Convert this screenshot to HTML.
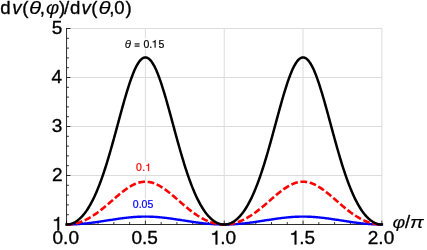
<!DOCTYPE html>
<html><head><meta charset="utf-8"><title>plot</title>
<style>
html,body{margin:0;padding:0;background:#fff;}
body{width:427px;height:250px;overflow:hidden;}
svg{display:block;will-change:transform;opacity:0.999;font-family:"Liberation Sans",sans-serif;}
</style></head><body>
<svg width="427" height="250" viewBox="0 0 427 250">
<rect x="0" y="0" width="427" height="250" fill="#fff"/>
<line x1="66.55" y1="28.50" x2="66.55" y2="224.50" stroke="#dcdcdc" stroke-width="1"/>
<line x1="145.39" y1="28.50" x2="145.39" y2="224.50" stroke="#dcdcdc" stroke-width="1"/>
<line x1="224.22" y1="28.50" x2="224.22" y2="224.50" stroke="#dcdcdc" stroke-width="1"/>
<line x1="303.06" y1="28.50" x2="303.06" y2="224.50" stroke="#dcdcdc" stroke-width="1"/>
<line x1="381.90" y1="28.50" x2="381.90" y2="224.50" stroke="#dcdcdc" stroke-width="1"/>
<line x1="66.55" y1="224.50" x2="381.90" y2="224.50" stroke="#dcdcdc" stroke-width="1"/>
<line x1="66.55" y1="175.50" x2="381.90" y2="175.50" stroke="#dcdcdc" stroke-width="1"/>
<line x1="66.55" y1="126.50" x2="381.90" y2="126.50" stroke="#dcdcdc" stroke-width="1"/>
<line x1="66.55" y1="77.50" x2="381.90" y2="77.50" stroke="#dcdcdc" stroke-width="1"/>
<line x1="66.55" y1="28.50" x2="381.90" y2="28.50" stroke="#dcdcdc" stroke-width="1"/>
<line x1="66.55" y1="28.10" x2="66.55" y2="224.90" stroke="#000" stroke-width="0.8"/>
<line x1="66.15" y1="224.50" x2="382.30" y2="224.50" stroke="#000" stroke-width="0.8"/>
<line x1="66.55" y1="224.50" x2="70.45" y2="224.50" stroke="#000" stroke-width="0.8"/>
<line x1="66.55" y1="214.70" x2="68.95" y2="214.70" stroke="#000" stroke-width="0.8"/>
<line x1="66.55" y1="204.90" x2="68.95" y2="204.90" stroke="#000" stroke-width="0.8"/>
<line x1="66.55" y1="195.10" x2="68.95" y2="195.10" stroke="#000" stroke-width="0.8"/>
<line x1="66.55" y1="185.30" x2="68.95" y2="185.30" stroke="#000" stroke-width="0.8"/>
<line x1="66.55" y1="175.50" x2="70.45" y2="175.50" stroke="#000" stroke-width="0.8"/>
<line x1="66.55" y1="165.70" x2="68.95" y2="165.70" stroke="#000" stroke-width="0.8"/>
<line x1="66.55" y1="155.90" x2="68.95" y2="155.90" stroke="#000" stroke-width="0.8"/>
<line x1="66.55" y1="146.10" x2="68.95" y2="146.10" stroke="#000" stroke-width="0.8"/>
<line x1="66.55" y1="136.30" x2="68.95" y2="136.30" stroke="#000" stroke-width="0.8"/>
<line x1="66.55" y1="126.50" x2="70.45" y2="126.50" stroke="#000" stroke-width="0.8"/>
<line x1="66.55" y1="116.70" x2="68.95" y2="116.70" stroke="#000" stroke-width="0.8"/>
<line x1="66.55" y1="106.90" x2="68.95" y2="106.90" stroke="#000" stroke-width="0.8"/>
<line x1="66.55" y1="97.10" x2="68.95" y2="97.10" stroke="#000" stroke-width="0.8"/>
<line x1="66.55" y1="87.30" x2="68.95" y2="87.30" stroke="#000" stroke-width="0.8"/>
<line x1="66.55" y1="77.50" x2="70.45" y2="77.50" stroke="#000" stroke-width="0.8"/>
<line x1="66.55" y1="67.70" x2="68.95" y2="67.70" stroke="#000" stroke-width="0.8"/>
<line x1="66.55" y1="57.90" x2="68.95" y2="57.90" stroke="#000" stroke-width="0.8"/>
<line x1="66.55" y1="48.10" x2="68.95" y2="48.10" stroke="#000" stroke-width="0.8"/>
<line x1="66.55" y1="38.30" x2="68.95" y2="38.30" stroke="#000" stroke-width="0.8"/>
<line x1="66.55" y1="28.50" x2="70.45" y2="28.50" stroke="#000" stroke-width="0.8"/>
<line x1="66.55" y1="224.50" x2="66.55" y2="220.60" stroke="#000" stroke-width="0.8"/>
<line x1="82.32" y1="224.50" x2="82.32" y2="222.10" stroke="#000" stroke-width="0.8"/>
<line x1="98.08" y1="224.50" x2="98.08" y2="222.10" stroke="#000" stroke-width="0.8"/>
<line x1="113.85" y1="224.50" x2="113.85" y2="222.10" stroke="#000" stroke-width="0.8"/>
<line x1="129.62" y1="224.50" x2="129.62" y2="222.10" stroke="#000" stroke-width="0.8"/>
<line x1="145.39" y1="224.50" x2="145.39" y2="220.60" stroke="#000" stroke-width="0.8"/>
<line x1="161.16" y1="224.50" x2="161.16" y2="222.10" stroke="#000" stroke-width="0.8"/>
<line x1="176.92" y1="224.50" x2="176.92" y2="222.10" stroke="#000" stroke-width="0.8"/>
<line x1="192.69" y1="224.50" x2="192.69" y2="222.10" stroke="#000" stroke-width="0.8"/>
<line x1="208.46" y1="224.50" x2="208.46" y2="222.10" stroke="#000" stroke-width="0.8"/>
<line x1="224.22" y1="224.50" x2="224.22" y2="220.60" stroke="#000" stroke-width="0.8"/>
<line x1="239.99" y1="224.50" x2="239.99" y2="222.10" stroke="#000" stroke-width="0.8"/>
<line x1="255.76" y1="224.50" x2="255.76" y2="222.10" stroke="#000" stroke-width="0.8"/>
<line x1="271.53" y1="224.50" x2="271.53" y2="222.10" stroke="#000" stroke-width="0.8"/>
<line x1="287.30" y1="224.50" x2="287.30" y2="222.10" stroke="#000" stroke-width="0.8"/>
<line x1="303.06" y1="224.50" x2="303.06" y2="220.60" stroke="#000" stroke-width="0.8"/>
<line x1="318.83" y1="224.50" x2="318.83" y2="222.10" stroke="#000" stroke-width="0.8"/>
<line x1="334.60" y1="224.50" x2="334.60" y2="222.10" stroke="#000" stroke-width="0.8"/>
<line x1="350.37" y1="224.50" x2="350.37" y2="222.10" stroke="#000" stroke-width="0.8"/>
<line x1="366.13" y1="224.50" x2="366.13" y2="222.10" stroke="#000" stroke-width="0.8"/>
<line x1="381.90" y1="224.50" x2="381.90" y2="220.60" stroke="#000" stroke-width="0.8"/>
<path d="M66.55,224.50 67.34,224.50 68.13,224.49 68.92,224.48 69.70,224.47 70.49,224.45 71.28,224.43 72.07,224.41 72.86,224.38 73.65,224.35 74.43,224.32 75.22,224.28 76.01,224.24 76.80,224.19 77.59,224.15 78.38,224.09 79.16,224.04 79.95,223.98 80.74,223.92 81.53,223.86 82.32,223.79 83.11,223.72 83.89,223.64 84.68,223.57 85.47,223.49 86.26,223.41 87.05,223.32 87.84,223.23 88.62,223.14 89.41,223.05 90.20,222.95 90.99,222.86 91.78,222.76 92.57,222.65 93.35,222.55 94.14,222.44 94.93,222.33 95.72,222.22 96.51,222.11 97.30,222.00 98.08,221.88 98.87,221.77 99.66,221.65 100.45,221.53 101.24,221.41 102.03,221.29 102.82,221.17 103.60,221.05 104.39,220.93 105.18,220.80 105.97,220.68 106.76,220.55 107.55,220.43 108.33,220.31 109.12,220.18 109.91,220.06 110.70,219.94 111.49,219.81 112.28,219.69 113.06,219.57 113.85,219.45 114.64,219.33 115.43,219.21 116.22,219.09 117.01,218.98 117.79,218.86 118.58,218.75 119.37,218.64 120.16,218.53 120.95,218.42 121.74,218.32 122.52,218.22 123.31,218.11 124.10,218.02 124.89,217.92 125.68,217.83 126.47,217.74 127.25,217.65 128.04,217.57 128.83,217.49 129.62,217.41 130.41,217.33 131.20,217.26 131.99,217.19 132.77,217.13 133.56,217.07 134.35,217.01 135.14,216.96 135.93,216.90 136.72,216.86 137.50,216.82 138.29,216.78 139.08,216.74 139.87,216.71 140.66,216.69 141.45,216.66 142.23,216.64 143.02,216.63 143.81,216.62 144.60,216.61 145.39,216.61 146.18,216.61 146.96,216.62 147.75,216.63 148.54,216.64 149.33,216.66 150.12,216.69 150.91,216.71 151.69,216.74 152.48,216.78 153.27,216.82 154.06,216.86 154.85,216.90 155.64,216.96 156.42,217.01 157.21,217.07 158.00,217.13 158.79,217.19 159.58,217.26 160.37,217.33 161.15,217.41 161.94,217.49 162.73,217.57 163.52,217.65 164.31,217.74 165.10,217.83 165.89,217.92 166.67,218.02 167.46,218.11 168.25,218.22 169.04,218.32 169.83,218.42 170.62,218.53 171.40,218.64 172.19,218.75 172.98,218.86 173.77,218.98 174.56,219.09 175.35,219.21 176.13,219.33 176.92,219.45 177.71,219.57 178.50,219.69 179.29,219.81 180.08,219.94 180.86,220.06 181.65,220.18 182.44,220.31 183.23,220.43 184.02,220.55 184.81,220.68 185.59,220.80 186.38,220.93 187.17,221.05 187.96,221.17 188.75,221.29 189.54,221.41 190.32,221.53 191.11,221.65 191.90,221.77 192.69,221.88 193.48,222.00 194.27,222.11 195.06,222.22 195.84,222.33 196.63,222.44 197.42,222.55 198.21,222.65 199.00,222.76 199.79,222.86 200.57,222.95 201.36,223.05 202.15,223.14 202.94,223.23 203.73,223.32 204.52,223.41 205.30,223.49 206.09,223.57 206.88,223.64 207.67,223.72 208.46,223.79 209.25,223.86 210.03,223.92 210.82,223.98 211.61,224.04 212.40,224.09 213.19,224.15 213.98,224.19 214.76,224.24 215.55,224.28 216.34,224.32 217.13,224.35 217.92,224.38 218.71,224.41 219.49,224.43 220.28,224.45 221.07,224.47 221.86,224.48 222.65,224.49 223.44,224.50 224.22,224.50 225.01,224.50 225.80,224.49 226.59,224.48 227.38,224.47 228.17,224.45 228.96,224.43 229.74,224.41 230.53,224.38 231.32,224.35 232.11,224.32 232.90,224.28 233.69,224.24 234.47,224.19 235.26,224.15 236.05,224.09 236.84,224.04 237.63,223.98 238.42,223.92 239.20,223.86 239.99,223.79 240.78,223.72 241.57,223.64 242.36,223.57 243.15,223.49 243.93,223.41 244.72,223.32 245.51,223.23 246.30,223.14 247.09,223.05 247.88,222.95 248.66,222.86 249.45,222.76 250.24,222.65 251.03,222.55 251.82,222.44 252.61,222.33 253.39,222.22 254.18,222.11 254.97,222.00 255.76,221.88 256.55,221.77 257.34,221.65 258.13,221.53 258.91,221.41 259.70,221.29 260.49,221.17 261.28,221.05 262.07,220.93 262.86,220.80 263.64,220.68 264.43,220.55 265.22,220.43 266.01,220.31 266.80,220.18 267.59,220.06 268.37,219.94 269.16,219.81 269.95,219.69 270.74,219.57 271.53,219.45 272.32,219.33 273.10,219.21 273.89,219.09 274.68,218.98 275.47,218.86 276.26,218.75 277.05,218.64 277.83,218.53 278.62,218.42 279.41,218.32 280.20,218.22 280.99,218.11 281.78,218.02 282.56,217.92 283.35,217.83 284.14,217.74 284.93,217.65 285.72,217.57 286.51,217.49 287.29,217.41 288.08,217.33 288.87,217.26 289.66,217.19 290.45,217.13 291.24,217.07 292.03,217.01 292.81,216.96 293.60,216.90 294.39,216.86 295.18,216.82 295.97,216.78 296.76,216.74 297.54,216.71 298.33,216.69 299.12,216.66 299.91,216.64 300.70,216.63 301.49,216.62 302.27,216.61 303.06,216.61 303.85,216.61 304.64,216.62 305.43,216.63 306.22,216.64 307.00,216.66 307.79,216.69 308.58,216.71 309.37,216.74 310.16,216.78 310.95,216.82 311.73,216.86 312.52,216.90 313.31,216.96 314.10,217.01 314.89,217.07 315.68,217.13 316.46,217.19 317.25,217.26 318.04,217.33 318.83,217.41 319.62,217.49 320.41,217.57 321.20,217.65 321.98,217.74 322.77,217.83 323.56,217.92 324.35,218.02 325.14,218.11 325.93,218.22 326.71,218.32 327.50,218.42 328.29,218.53 329.08,218.64 329.87,218.75 330.66,218.86 331.44,218.98 332.23,219.09 333.02,219.21 333.81,219.33 334.60,219.45 335.39,219.57 336.17,219.69 336.96,219.81 337.75,219.94 338.54,220.06 339.33,220.18 340.12,220.31 340.90,220.43 341.69,220.55 342.48,220.68 343.27,220.80 344.06,220.93 344.85,221.05 345.63,221.17 346.42,221.29 347.21,221.41 348.00,221.53 348.79,221.65 349.58,221.77 350.37,221.88 351.15,222.00 351.94,222.11 352.73,222.22 353.52,222.33 354.31,222.44 355.10,222.55 355.88,222.65 356.67,222.76 357.46,222.86 358.25,222.95 359.04,223.05 359.83,223.14 360.61,223.23 361.40,223.32 362.19,223.41 362.98,223.49 363.77,223.57 364.56,223.64 365.34,223.72 366.13,223.79 366.92,223.86 367.71,223.92 368.50,223.98 369.29,224.04 370.07,224.09 370.86,224.15 371.65,224.19 372.44,224.24 373.23,224.28 374.02,224.32 374.80,224.35 375.59,224.38 376.38,224.41 377.17,224.43 377.96,224.45 378.75,224.47 379.53,224.48 380.32,224.49 381.11,224.50 381.90,224.50" fill="none" stroke="#0000ff" stroke-width="2.4" stroke-linejoin="round"/>
<path d="M66.55,224.50 67.34,224.49 68.13,224.47 68.92,224.43 69.70,224.37 70.49,224.30 71.28,224.21 72.07,224.11 72.86,223.99 73.65,223.85 74.43,223.70 75.22,223.53 76.01,223.35 76.80,223.15 77.59,222.94 78.38,222.71 79.16,222.46 79.95,222.20 80.74,221.92 81.53,221.63 82.32,221.32 83.11,221.00 83.89,220.66 84.68,220.31 85.47,219.94 86.26,219.56 87.05,219.16 87.84,218.75 88.62,218.32 89.41,217.88 90.20,217.43 90.99,216.96 91.78,216.48 92.57,215.98 93.35,215.48 94.14,214.96 94.93,214.42 95.72,213.88 96.51,213.32 97.30,212.76 98.08,212.18 98.87,211.59 99.66,210.99 100.45,210.38 101.24,209.76 102.03,209.14 102.82,208.50 103.60,207.86 104.39,207.21 105.18,206.55 105.97,205.89 106.76,205.22 107.55,204.55 108.33,203.87 109.12,203.19 109.91,202.50 110.70,201.82 111.49,201.13 112.28,200.44 113.06,199.75 113.85,199.07 114.64,198.38 115.43,197.70 116.22,197.02 117.01,196.35 117.79,195.68 118.58,195.01 119.37,194.35 120.16,193.71 120.95,193.06 121.74,192.43 122.52,191.81 123.31,191.20 124.10,190.60 124.89,190.02 125.68,189.45 126.47,188.89 127.25,188.35 128.04,187.82 128.83,187.31 129.62,186.82 130.41,186.35 131.20,185.90 131.99,185.47 132.77,185.05 133.56,184.66 134.35,184.29 135.14,183.95 135.93,183.63 136.72,183.33 137.50,183.05 138.29,182.80 139.08,182.58 139.87,182.38 140.66,182.21 141.45,182.06 142.23,181.94 143.02,181.84 143.81,181.78 144.60,181.74 145.39,181.72 146.18,181.74 146.96,181.78 147.75,181.84 148.54,181.94 149.33,182.06 150.12,182.21 150.91,182.38 151.69,182.58 152.48,182.80 153.27,183.05 154.06,183.33 154.85,183.63 155.64,183.95 156.42,184.29 157.21,184.66 158.00,185.05 158.79,185.47 159.58,185.90 160.37,186.35 161.15,186.82 161.94,187.31 162.73,187.82 163.52,188.35 164.31,188.89 165.10,189.45 165.89,190.02 166.67,190.60 167.46,191.20 168.25,191.81 169.04,192.43 169.83,193.06 170.62,193.71 171.40,194.35 172.19,195.01 172.98,195.68 173.77,196.35 174.56,197.02 175.35,197.70 176.13,198.38 176.92,199.07 177.71,199.75 178.50,200.44 179.29,201.13 180.08,201.82 180.86,202.50 181.65,203.19 182.44,203.87 183.23,204.55 184.02,205.22 184.81,205.89 185.59,206.55 186.38,207.21 187.17,207.86 187.96,208.50 188.75,209.14 189.54,209.76 190.32,210.38 191.11,210.99 191.90,211.59 192.69,212.18 193.48,212.76 194.27,213.32 195.06,213.88 195.84,214.42 196.63,214.96 197.42,215.48 198.21,215.98 199.00,216.48 199.79,216.96 200.57,217.43 201.36,217.88 202.15,218.32 202.94,218.75 203.73,219.16 204.52,219.56 205.30,219.94 206.09,220.31 206.88,220.66 207.67,221.00 208.46,221.32 209.25,221.63 210.03,221.92 210.82,222.20 211.61,222.46 212.40,222.71 213.19,222.94 213.98,223.15 214.76,223.35 215.55,223.53 216.34,223.70 217.13,223.85 217.92,223.99 218.71,224.11 219.49,224.21 220.28,224.30 221.07,224.37 221.86,224.43 222.65,224.47 223.44,224.49 224.22,224.50 225.01,224.49 225.80,224.47 226.59,224.43 227.38,224.37 228.17,224.30 228.96,224.21 229.74,224.11 230.53,223.99 231.32,223.85 232.11,223.70 232.90,223.53 233.69,223.35 234.47,223.15 235.26,222.94 236.05,222.71 236.84,222.46 237.63,222.20 238.42,221.92 239.20,221.63 239.99,221.32 240.78,221.00 241.57,220.66 242.36,220.31 243.15,219.94 243.93,219.56 244.72,219.16 245.51,218.75 246.30,218.32 247.09,217.88 247.88,217.43 248.66,216.96 249.45,216.48 250.24,215.98 251.03,215.48 251.82,214.96 252.61,214.42 253.39,213.88 254.18,213.32 254.97,212.76 255.76,212.18 256.55,211.59 257.34,210.99 258.13,210.38 258.91,209.76 259.70,209.14 260.49,208.50 261.28,207.86 262.07,207.21 262.86,206.55 263.64,205.89 264.43,205.22 265.22,204.55 266.01,203.87 266.80,203.19 267.59,202.50 268.37,201.82 269.16,201.13 269.95,200.44 270.74,199.75 271.53,199.07 272.32,198.38 273.10,197.70 273.89,197.02 274.68,196.35 275.47,195.68 276.26,195.01 277.05,194.35 277.83,193.71 278.62,193.06 279.41,192.43 280.20,191.81 280.99,191.20 281.78,190.60 282.56,190.02 283.35,189.45 284.14,188.89 284.93,188.35 285.72,187.82 286.51,187.31 287.29,186.82 288.08,186.35 288.87,185.90 289.66,185.47 290.45,185.05 291.24,184.66 292.03,184.29 292.81,183.95 293.60,183.63 294.39,183.33 295.18,183.05 295.97,182.80 296.76,182.58 297.54,182.38 298.33,182.21 299.12,182.06 299.91,181.94 300.70,181.84 301.49,181.78 302.27,181.74 303.06,181.72 303.85,181.74 304.64,181.78 305.43,181.84 306.22,181.94 307.00,182.06 307.79,182.21 308.58,182.38 309.37,182.58 310.16,182.80 310.95,183.05 311.73,183.33 312.52,183.63 313.31,183.95 314.10,184.29 314.89,184.66 315.68,185.05 316.46,185.47 317.25,185.90 318.04,186.35 318.83,186.82 319.62,187.31 320.41,187.82 321.20,188.35 321.98,188.89 322.77,189.45 323.56,190.02 324.35,190.60 325.14,191.20 325.93,191.81 326.71,192.43 327.50,193.06 328.29,193.71 329.08,194.35 329.87,195.01 330.66,195.68 331.44,196.35 332.23,197.02 333.02,197.70 333.81,198.38 334.60,199.07 335.39,199.75 336.17,200.44 336.96,201.13 337.75,201.82 338.54,202.50 339.33,203.19 340.12,203.87 340.90,204.55 341.69,205.22 342.48,205.89 343.27,206.55 344.06,207.21 344.85,207.86 345.63,208.50 346.42,209.14 347.21,209.76 348.00,210.38 348.79,210.99 349.58,211.59 350.37,212.18 351.15,212.76 351.94,213.32 352.73,213.88 353.52,214.42 354.31,214.96 355.10,215.48 355.88,215.98 356.67,216.48 357.46,216.96 358.25,217.43 359.04,217.88 359.83,218.32 360.61,218.75 361.40,219.16 362.19,219.56 362.98,219.94 363.77,220.31 364.56,220.66 365.34,221.00 366.13,221.32 366.92,221.63 367.71,221.92 368.50,222.20 369.29,222.46 370.07,222.71 370.86,222.94 371.65,223.15 372.44,223.35 373.23,223.53 374.02,223.70 374.80,223.85 375.59,223.99 376.38,224.11 377.17,224.21 377.96,224.30 378.75,224.37 379.53,224.43 380.32,224.47 381.11,224.49 381.90,224.50" fill="none" stroke="#ff0000" stroke-width="2.6" stroke-dasharray="6.75 2.65" stroke-linejoin="round"/>
<path d="M66.55,224.50 67.34,224.48 68.13,224.42 68.92,224.32 69.70,224.17 70.49,223.99 71.28,223.76 72.07,223.50 72.86,223.19 73.65,222.84 74.43,222.45 75.22,222.01 76.01,221.53 76.80,221.01 77.59,220.44 78.38,219.83 79.16,219.17 79.95,218.47 80.74,217.72 81.53,216.92 82.32,216.08 83.11,215.18 83.89,214.24 84.68,213.25 85.47,212.20 86.26,211.11 87.05,209.96 87.84,208.76 88.62,207.51 89.41,206.20 90.20,204.84 90.99,203.43 91.78,201.95 92.57,200.43 93.35,198.84 94.14,197.20 94.93,195.50 95.72,193.75 96.51,191.93 97.30,190.06 98.08,188.13 98.87,186.15 99.66,184.10 100.45,182.00 101.24,179.85 102.03,177.64 102.82,175.37 103.60,173.05 104.39,170.68 105.18,168.26 105.97,165.78 106.76,163.26 107.55,160.69 108.33,158.08 109.12,155.42 109.91,152.73 110.70,150.00 111.49,147.23 112.28,144.43 113.06,141.61 113.85,138.75 114.64,135.88 115.43,132.99 116.22,130.08 117.01,127.17 117.79,124.25 118.58,121.33 119.37,118.41 120.16,115.51 120.95,112.61 121.74,109.73 122.52,106.88 123.31,104.06 124.10,101.27 124.89,98.52 125.68,95.81 126.47,93.16 127.25,90.56 128.04,88.02 128.83,85.55 129.62,83.16 130.41,80.84 131.20,78.60 131.99,76.45 132.77,74.39 133.56,72.44 134.35,70.58 135.14,68.83 135.93,67.19 136.72,65.67 137.50,64.27 138.29,62.99 139.08,61.83 139.87,60.81 140.66,59.91 141.45,59.15 142.23,58.53 143.02,58.04 143.81,57.69 144.60,57.48 145.39,57.41 146.18,57.48 146.96,57.69 147.75,58.04 148.54,58.53 149.33,59.15 150.12,59.91 150.91,60.81 151.69,61.83 152.48,62.99 153.27,64.27 154.06,65.67 154.85,67.19 155.64,68.83 156.42,70.58 157.21,72.44 158.00,74.39 158.79,76.45 159.58,78.60 160.37,80.84 161.15,83.16 161.94,85.55 162.73,88.02 163.52,90.56 164.31,93.16 165.10,95.81 165.89,98.52 166.67,101.27 167.46,104.06 168.25,106.88 169.04,109.73 169.83,112.61 170.62,115.51 171.40,118.41 172.19,121.33 172.98,124.25 173.77,127.17 174.56,130.08 175.35,132.99 176.13,135.88 176.92,138.75 177.71,141.61 178.50,144.43 179.29,147.23 180.08,150.00 180.86,152.73 181.65,155.42 182.44,158.08 183.23,160.69 184.02,163.26 184.81,165.78 185.59,168.26 186.38,170.68 187.17,173.05 187.96,175.37 188.75,177.64 189.54,179.85 190.32,182.00 191.11,184.10 191.90,186.15 192.69,188.13 193.48,190.06 194.27,191.93 195.06,193.75 195.84,195.50 196.63,197.20 197.42,198.84 198.21,200.43 199.00,201.95 199.79,203.43 200.57,204.84 201.36,206.20 202.15,207.51 202.94,208.76 203.73,209.96 204.52,211.11 205.30,212.20 206.09,213.25 206.88,214.24 207.67,215.18 208.46,216.08 209.25,216.92 210.03,217.72 210.82,218.47 211.61,219.17 212.40,219.83 213.19,220.44 213.98,221.01 214.76,221.53 215.55,222.01 216.34,222.45 217.13,222.84 217.92,223.19 218.71,223.50 219.49,223.76 220.28,223.99 221.07,224.17 221.86,224.32 222.65,224.42 223.44,224.48 224.22,224.50 225.01,224.48 225.80,224.42 226.59,224.32 227.38,224.17 228.17,223.99 228.96,223.76 229.74,223.50 230.53,223.19 231.32,222.84 232.11,222.45 232.90,222.01 233.69,221.53 234.47,221.01 235.26,220.44 236.05,219.83 236.84,219.17 237.63,218.47 238.42,217.72 239.20,216.92 239.99,216.08 240.78,215.18 241.57,214.24 242.36,213.25 243.15,212.20 243.93,211.11 244.72,209.96 245.51,208.76 246.30,207.51 247.09,206.20 247.88,204.84 248.66,203.43 249.45,201.95 250.24,200.43 251.03,198.84 251.82,197.20 252.61,195.50 253.39,193.75 254.18,191.93 254.97,190.06 255.76,188.13 256.55,186.15 257.34,184.10 258.13,182.00 258.91,179.85 259.70,177.64 260.49,175.37 261.28,173.05 262.07,170.68 262.86,168.26 263.64,165.78 264.43,163.26 265.22,160.69 266.01,158.08 266.80,155.42 267.59,152.73 268.37,150.00 269.16,147.23 269.95,144.43 270.74,141.61 271.53,138.75 272.32,135.88 273.10,132.99 273.89,130.08 274.68,127.17 275.47,124.25 276.26,121.33 277.05,118.41 277.83,115.51 278.62,112.61 279.41,109.73 280.20,106.88 280.99,104.06 281.78,101.27 282.56,98.52 283.35,95.81 284.14,93.16 284.93,90.56 285.72,88.02 286.51,85.55 287.29,83.16 288.08,80.84 288.87,78.60 289.66,76.45 290.45,74.39 291.24,72.44 292.03,70.58 292.81,68.83 293.60,67.19 294.39,65.67 295.18,64.27 295.97,62.99 296.76,61.83 297.54,60.81 298.33,59.91 299.12,59.15 299.91,58.53 300.70,58.04 301.49,57.69 302.27,57.48 303.06,57.41 303.85,57.48 304.64,57.69 305.43,58.04 306.22,58.53 307.00,59.15 307.79,59.91 308.58,60.81 309.37,61.83 310.16,62.99 310.95,64.27 311.73,65.67 312.52,67.19 313.31,68.83 314.10,70.58 314.89,72.44 315.68,74.39 316.46,76.45 317.25,78.60 318.04,80.84 318.83,83.16 319.62,85.55 320.41,88.02 321.20,90.56 321.98,93.16 322.77,95.81 323.56,98.52 324.35,101.27 325.14,104.06 325.93,106.88 326.71,109.73 327.50,112.61 328.29,115.51 329.08,118.41 329.87,121.33 330.66,124.25 331.44,127.17 332.23,130.08 333.02,132.99 333.81,135.88 334.60,138.75 335.39,141.61 336.17,144.43 336.96,147.23 337.75,150.00 338.54,152.73 339.33,155.42 340.12,158.08 340.90,160.69 341.69,163.26 342.48,165.78 343.27,168.26 344.06,170.68 344.85,173.05 345.63,175.37 346.42,177.64 347.21,179.85 348.00,182.00 348.79,184.10 349.58,186.15 350.37,188.13 351.15,190.06 351.94,191.93 352.73,193.75 353.52,195.50 354.31,197.20 355.10,198.84 355.88,200.43 356.67,201.95 357.46,203.43 358.25,204.84 359.04,206.20 359.83,207.51 360.61,208.76 361.40,209.96 362.19,211.11 362.98,212.20 363.77,213.25 364.56,214.24 365.34,215.18 366.13,216.08 366.92,216.92 367.71,217.72 368.50,218.47 369.29,219.17 370.07,219.83 370.86,220.44 371.65,221.01 372.44,221.53 373.23,222.01 374.02,222.45 374.80,222.84 375.59,223.19 376.38,223.50 377.17,223.76 377.96,223.99 378.75,224.17 379.53,224.32 380.32,224.42 381.11,224.48 381.90,224.50" fill="none" stroke="#000" stroke-width="2.5" stroke-linejoin="round" stroke-linecap="square"/>
<text x="51.83" y="34.40" font-size="19" fill="#000" stroke="#000" stroke-width="0.35" stroke-linejoin="round">5</text>
<text x="51.39" y="83.40" font-size="19" fill="#000" stroke="#000" stroke-width="0.35" stroke-linejoin="round">4</text>
<text x="51.87" y="132.40" font-size="19" fill="#000" stroke="#000" stroke-width="0.35" stroke-linejoin="round">3</text>
<text x="51.99" y="181.40" font-size="19" fill="#000" stroke="#000" stroke-width="0.35" stroke-linejoin="round">2</text>
<path d="M403 0 L315 0 L315 512 L132 512 L132 575 C245 577 315 607 344 716 L403 716 Z" fill="#000" stroke="#000" stroke-width="18.4" transform="translate(51.44 230.60) scale(0.01900 -0.01900)"/>
<text x="52.54" y="244.40" font-size="19" fill="#000" stroke="#000" stroke-width="0.35" stroke-linejoin="round">0</text>
<text x="63.11" y="244.40" font-size="19" fill="#000" stroke="#000" stroke-width="0.35" stroke-linejoin="round">.</text>
<text x="68.39" y="244.40" font-size="19" fill="#000" stroke="#000" stroke-width="0.35" stroke-linejoin="round">0</text>
<text x="131.41" y="244.40" font-size="19" fill="#000" stroke="#000" stroke-width="0.35" stroke-linejoin="round">0</text>
<text x="141.98" y="244.40" font-size="19" fill="#000" stroke="#000" stroke-width="0.35" stroke-linejoin="round">.</text>
<text x="147.25" y="244.40" font-size="19" fill="#000" stroke="#000" stroke-width="0.35" stroke-linejoin="round">5</text>
<path d="M403 0 L315 0 L315 512 L132 512 L132 575 C245 577 315 607 344 716 L403 716 Z" fill="#000" stroke="#000" stroke-width="18.4" transform="translate(209.64 244.40) scale(0.01900 -0.01900)"/>
<text x="220.20" y="244.40" font-size="19" fill="#000" stroke="#000" stroke-width="0.35" stroke-linejoin="round">.</text>
<text x="225.48" y="244.40" font-size="19" fill="#000" stroke="#000" stroke-width="0.35" stroke-linejoin="round">0</text>
<path d="M403 0 L315 0 L315 512 L132 512 L132 575 C245 577 315 607 344 716 L403 716 Z" fill="#000" stroke="#000" stroke-width="18.4" transform="translate(288.70 244.40) scale(0.01900 -0.01900)"/>
<text x="299.27" y="244.40" font-size="19" fill="#000" stroke="#000" stroke-width="0.35" stroke-linejoin="round">.</text>
<text x="304.55" y="244.40" font-size="19" fill="#000" stroke="#000" stroke-width="0.35" stroke-linejoin="round">5</text>
<text x="367.79" y="244.40" font-size="19" fill="#000" stroke="#000" stroke-width="0.35" stroke-linejoin="round">2</text>
<text x="378.35" y="244.40" font-size="19" fill="#000" stroke="#000" stroke-width="0.35" stroke-linejoin="round">.</text>
<text x="383.63" y="244.40" font-size="19" fill="#000" stroke="#000" stroke-width="0.35" stroke-linejoin="round">0</text>
<text x="0.32" y="14.10" font-size="18.6" fill="#000" stroke="#000" stroke-width="0.35" stroke-linejoin="round">d</text>
<text x="12.28" y="14.10" font-size="18.6" fill="#000" stroke="#000" stroke-width="0.35" stroke-linejoin="round" font-style="italic">v</text>
<text x="22.25" y="14.10" font-size="18.6" fill="#000" stroke="#000" stroke-width="0.35" stroke-linejoin="round">(</text>
<text transform="translate(29.10 14.10) scale(1.2000 1.0000)" font-size="18.6" fill="#000" stroke="#000" stroke-width="0.12" stroke-linejoin="round" font-style="italic">θ</text>
<text x="39.83" y="14.10" font-size="18.6" fill="#000" stroke="#000" stroke-width="0.35" stroke-linejoin="round">,</text>
<text transform="translate(45.90 14.10) scale(1.0900 1.0000)" font-size="18.6" fill="#000" stroke="#000" stroke-width="0.12" stroke-linejoin="round" font-style="italic">φ</text>
<text x="58.99" y="14.10" font-size="18.6" fill="#000" stroke="#000" stroke-width="0.35" stroke-linejoin="round">)</text>
<text x="64.00" y="14.10" font-size="18.6" fill="#000" stroke="#000" stroke-width="0.35" stroke-linejoin="round">/</text>
<text x="70.02" y="14.10" font-size="18.6" fill="#000" stroke="#000" stroke-width="0.35" stroke-linejoin="round">d</text>
<text x="81.38" y="14.10" font-size="18.6" fill="#000" stroke="#000" stroke-width="0.35" stroke-linejoin="round" font-style="italic">v</text>
<text x="91.35" y="14.10" font-size="18.6" fill="#000" stroke="#000" stroke-width="0.35" stroke-linejoin="round">(</text>
<text transform="translate(98.50 14.10) scale(1.2000 1.0000)" font-size="18.6" fill="#000" stroke="#000" stroke-width="0.12" stroke-linejoin="round" font-style="italic">θ</text>
<text x="109.33" y="14.10" font-size="18.6" fill="#000" stroke="#000" stroke-width="0.35" stroke-linejoin="round">,</text>
<text x="114.27" y="14.10" font-size="18.6" fill="#000" stroke="#000" stroke-width="0.35" stroke-linejoin="round">0</text>
<text x="125.59" y="14.10" font-size="18.6" fill="#000" stroke="#000" stroke-width="0.35" stroke-linejoin="round">)</text>
<text transform="translate(392.42 228.40) scale(1.0500 0.9300)" font-size="18.6" fill="#000" stroke="#000" stroke-width="0.12" stroke-linejoin="round" font-style="italic">φ</text>
<text x="404.90" y="228.00" font-size="18.6" fill="#000" stroke="#000" stroke-width="0.35" stroke-linejoin="round">/</text>
<text transform="translate(410.09 228.00) scale(1.1000 0.9300)" font-size="18.6" fill="#000" stroke="#000" stroke-width="0.12" stroke-linejoin="round" font-style="italic">π</text>
<rect x="123.50" y="38.30" width="42.00" height="10.90" fill="#fff"/>
<text transform="translate(124.63 47.60) scale(1.1000 1.0000)" font-size="10.5" fill="#000" stroke="#000" stroke-width="0.08" stroke-linejoin="round" font-style="italic">θ</text>
<rect x="134.6" y="43.35" width="5.0" height="1.1" fill="#000"/>
<rect x="134.6" y="45.55" width="5.0" height="1.1" fill="#000"/>
<text x="143.49" y="47.60" font-size="10.5" fill="#000" stroke="#000" stroke-width="0.22" stroke-linejoin="round">0</text>
<text x="149.33" y="47.60" font-size="10.5" fill="#000" stroke="#000" stroke-width="0.22" stroke-linejoin="round">.</text>
<path d="M403 0 L315 0 L315 512 L132 512 L132 575 C245 577 315 607 344 716 L403 716 Z" fill="#000" stroke="#000" stroke-width="21.0" transform="translate(151.35 47.60) scale(0.01050 -0.01050)"/>
<text x="158.38" y="47.60" font-size="10.5" fill="#000" stroke="#000" stroke-width="0.22" stroke-linejoin="round">5</text>
<rect x="135.50" y="161.60" width="15.50" height="12.60" fill="#fff"/>
<text x="136.09" y="171.10" font-size="10.5" fill="#ff0000" stroke="#ff0000" stroke-width="0.22" stroke-linejoin="round">0</text>
<text x="142.33" y="171.10" font-size="10.5" fill="#ff0000" stroke="#ff0000" stroke-width="0.22" stroke-linejoin="round">.</text>
<path d="M403 0 L315 0 L315 512 L132 512 L132 575 C245 577 315 607 344 716 L403 716 Z" fill="#ff0000" stroke="#ff0000" stroke-width="21.0" transform="translate(144.85 171.10) scale(0.01050 -0.01050)"/>
<rect x="131.50" y="198.60" width="23.00" height="12.60" fill="#fff"/>
<text x="132.79" y="208.20" font-size="10.5" fill="#0000ff" stroke="#0000ff" stroke-width="0.22" stroke-linejoin="round">0</text>
<text x="138.63" y="208.20" font-size="10.5" fill="#0000ff" stroke="#0000ff" stroke-width="0.22" stroke-linejoin="round">.</text>
<text x="141.55" y="208.20" font-size="10.5" fill="#0000ff" stroke="#0000ff" stroke-width="0.22" stroke-linejoin="round">0</text>
<text x="147.39" y="208.20" font-size="10.5" fill="#0000ff" stroke="#0000ff" stroke-width="0.22" stroke-linejoin="round">5</text>
</svg>
</body></html>
